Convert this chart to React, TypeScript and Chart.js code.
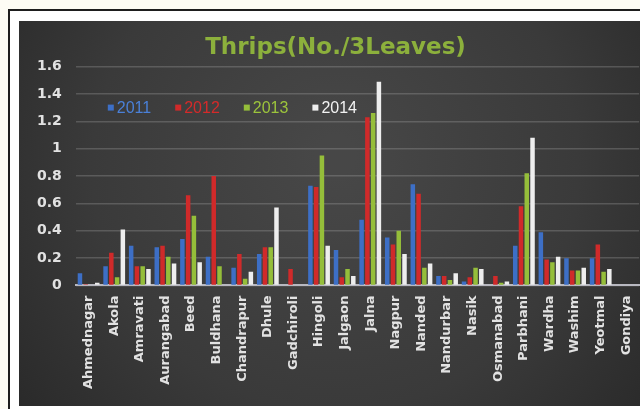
import React, { useEffect, useRef } from "react";
import { Chart, registerables } from "chart.js";

Chart.register(...registerables);

const districts = [
  "Ahmednagar", "Akola", "Amravati", "Aurangabad", "Beed", "Buldhana", "Chandrapur",
  "Dhule", "Gadchiroli", "Hingoli", "Jalgaon", "Jalna", "Nagpur", "Nanded", "Nandurbar",
  "Nasik", "Osmanabad", "Parbhani", "Wardha", "Washim", "Yeotmal", "Gondiya",
];

const years = ["2011", "2012", "2013", "2014"];

const values2011 = [0.09, 0.14, 0.29, 0.28, 0.34, 0.21, 0.13, 0.23, 0, 0.73, 0.26, 0.48, 0.35, 0.74, 0.07, 0.03, 0, 0.29, 0.39, 0.2, 0.2, 0];
const values2012 = [0.01, 0.24, 0.14, 0.29, 0.66, 0.8, 0.23, 0.28, 0.12, 0.72, 0.06, 1.23, 0.3, 0.67, 0.07, 0.06, 0.07, 0.58, 0.19, 0.11, 0.3, 0];
const values2013 = [0, 0.06, 0.14, 0.21, 0.51, 0.14, 0.05, 0.28, 0, 0.95, 0.12, 1.26, 0.4, 0.13, 0.04, 0.13, 0.02, 0.82, 0.17, 0.11, 0.1, 0];
const values2014 = [0.02, 0.41, 0.12, 0.16, 0.17, 0, 0.1, 0.57, 0, 0.29, 0.07, 1.49, 0.23, 0.16, 0.09, 0.12, 0.03, 1.08, 0.21, 0.13, 0.12, 0];

const barColors = ["#3d6fc6", "#d02a2a", "#95be3a", "#eeeeee"];
const legendTextColors = ["#4a80d8", "#d42a2a", "#9cc43c", "#f2f2f2"];

const backgroundPlugin = {
  id: "darkBackground",
  beforeDraw(chart: any) {
    const { ctx, width, height } = chart;
    ctx.save();
    const g = ctx.createRadialGradient(width * 0.5, height * 0.35, 20, width * 0.5, height * 0.4, width * 0.62);
    g.addColorStop(0, "#474747");
    g.addColorStop(0.6, "#3a3a3a");
    g.addColorStop(1, "#2a2a2a");
    ctx.fillStyle = g;
    ctx.fillRect(0, 0, width, height);
    ctx.restore();
  },
};

const inlineLegendPlugin = {
  id: "inlineLegend",
  afterDraw(chart: any) {
    const { ctx, chartArea } = chart;
    ctx.save();
    ctx.font = '16px "Liberation Sans"';
    ctx.textBaseline = "middle";
    ctx.textAlign = "left";
    let x = chartArea.left + 32;
    const y = chartArea.top + 41;
    chart.data.datasets.forEach((ds: any, i: number) => {
      ctx.fillStyle = barColors[i];
      ctx.fillRect(x, y - 3, 6, 6);
      ctx.fillStyle = legendTextColors[i];
      ctx.fillText(ds.label, x + 9, y + 1);
      x += 9 + ctx.measureText(ds.label).width + 24;
    });
    ctx.restore();
  },
};

export default function App() {
  const canvasRef = useRef<HTMLCanvasElement | null>(null);

  useEffect(() => {
    if (!canvasRef.current) return;
    const series = [values2011, values2012, values2013, values2014];
    const chart = new Chart(canvasRef.current, {
      type: "bar",
      data: {
        labels: districts,
        datasets: years.map((y, i) => ({
          label: y,
          data: series[i],
          backgroundColor: barColors[i],
          borderWidth: 0,
          barPercentage: 0.78,
          categoryPercentage: 0.9,
        })),
      },
      options: {
        responsive: false,
        animation: false,
        devicePixelRatio: 1,
        layout: { padding: { left: 4, right: 4, top: 0, bottom: 7 } },
        plugins: {
          legend: { display: false },
          tooltip: { enabled: false },
          title: {
            display: true,
            text: "Thrips(No./3Leaves)",
            color: "#8cb03c",
            font: { family: '"DejaVu Sans"', size: 23, weight: "bold" },
            padding: { top: 13, bottom: 5 },
          },
        },
        scales: {
          x: {
            grid: { display: false, drawTicks: false },
            border: { display: true, color: "#b8b8c0", width: 2 },
            ticks: {
              color: "#e2e2e2",
              font: { family: '"DejaVu Sans"', size: 13, weight: "bold" },
              minRotation: 90,
              maxRotation: 90,
              autoSkip: false,
              padding: 10,
            },
          },
          y: {
            min: 0,
            max: 1.6,
            grid: { color: "rgba(210,210,210,0.22)", lineWidth: 1.5, drawTicks: false },
            border: { display: false },
            ticks: {
              stepSize: 0.2,
              color: "#e2e2e2",
              font: { family: '"DejaVu Sans"', size: 14, weight: "bold" },
              padding: 14,
              callback: (v: any) => String(Math.round(Number(v) * 10) / 10),
            },
          },
        },
      },
      plugins: [backgroundPlugin, inlineLegendPlugin],
    });
    return () => chart.destroy();
  }, []);

  return (
    <div style={{ position: "fixed", inset: 0, background: "#fdfcf4", overflow: "hidden" }}>
      <div
        style={{
          position: "absolute",
          left: 8,
          top: 9,
          width: 700,
          height: 500,
          borderTop: "2px solid #1e1e1e",
          borderLeft: "2px solid #1e1e1e",
          background: "#ffffff",
        }}
      />
      <div style={{ position: "absolute", left: 19, top: 21, width: 633, height: 385 }}>
        <canvas ref={canvasRef} width={633} height={385} style={{ display: "block" }} />
      </div>
    </div>
  );
}
